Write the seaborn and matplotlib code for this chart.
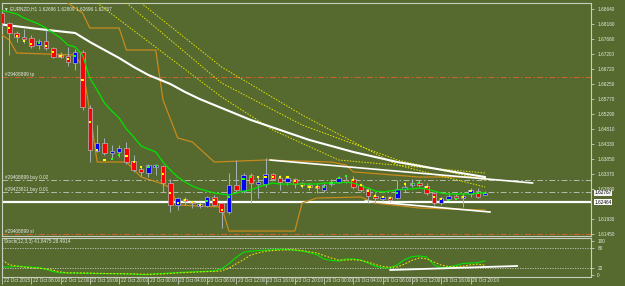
import matplotlib
matplotlib.use("Agg")
import matplotlib.pyplot as plt
import matplotlib.transforms as mtransforms
import numpy as np
import seaborn as sns

# ---------------- data (EURNZD H1) ----------------
bar_open = [1.68513, 1.68193, 1.67873, 1.67746, 1.67714, 1.67490, 1.67618, 1.67394, 1.67170, 1.67138,
            1.66915, 1.67266, 1.65476, 1.64102, 1.64358, 1.64038, 1.64070, 1.64198, 1.63782, 1.63527,
            1.63399, 1.63591, 1.63623, 1.63079, 1.62376, 1.62568, 1.62472, 1.62344, 1.62344, 1.62632,
            1.62440, 1.62152, 1.63015, 1.62824, 1.63335, 1.63047, 1.63047, 1.63367, 1.63239, 1.63111,
            1.63207, 1.63079, 1.63015, 1.62983, 1.62856, 1.63047, 1.63111, 1.63175, 1.63207, 1.63015,
            1.62888, 1.62664, 1.62568, 1.62632, 1.62600, 1.62888, 1.63015, 1.63079, 1.62983, 1.62760,
            1.62440, 1.62568, 1.62664, 1.62600, 1.62728, 1.62824, 1.62696]
bar_high = [1.68608, 1.68225, 1.67937, 1.68001, 1.67809, 1.67682, 1.67969, 1.67426, 1.67266, 1.67426,
            1.67362, 1.67330, 1.65572, 1.64933, 1.64518, 1.64294, 1.64294, 1.64390, 1.63974, 1.63591,
            1.63687, 1.63687, 1.63655, 1.63207, 1.62632, 1.62632, 1.62504, 1.62472, 1.62664, 1.62696,
            1.62472, 1.63399, 1.63814, 1.63399, 1.63399, 1.63271, 1.63878, 1.63399, 1.63335, 1.63271,
            1.63239, 1.63111, 1.63079, 1.63079, 1.63079, 1.63207, 1.63303, 1.63335, 1.63303, 1.63079,
            1.62952, 1.62760, 1.62664, 1.62664, 1.63175, 1.63111, 1.63207, 1.63175, 1.63079, 1.62792,
            1.62632, 1.62760, 1.62728, 1.62760, 1.62920, 1.62920, 1.62809]
bar_low = [1.68097, 1.67170, 1.67586, 1.67554, 1.67394, 1.67362, 1.67330, 1.67074, 1.67074, 1.66819,
           1.66691, 1.65412, 1.63750, 1.64070, 1.63974, 1.63878, 1.63910, 1.63687, 1.63431, 1.63303,
           1.63271, 1.63335, 1.62792, 1.62152, 1.62216, 1.62376, 1.62280, 1.62280, 1.62312, 1.62344,
           1.61641, 1.62089, 1.62760, 1.62760, 1.62440, 1.62600, 1.62952, 1.63175, 1.62856, 1.63015,
           1.62920, 1.62920, 1.62856, 1.62760, 1.62792, 1.62983, 1.63079, 1.63079, 1.62888, 1.62792,
           1.62440, 1.62440, 1.62504, 1.62472, 1.62568, 1.62792, 1.62952, 1.62952, 1.62696, 1.62376,
           1.62376, 1.62536, 1.62568, 1.62312, 1.62632, 1.62600, 1.62696]
bar_close = [1.68193, 1.67873, 1.67746, 1.67682, 1.67458, 1.67618, 1.67394, 1.67106, 1.67106, 1.66947,
             1.67266, 1.65508, 1.64134, 1.64358, 1.64038, 1.64102, 1.64198, 1.63750, 1.63495, 1.63431,
             1.63655, 1.63655, 1.63079, 1.62376, 1.62600, 1.62504, 1.62440, 1.62408, 1.62632, 1.62376,
             1.62152, 1.63015, 1.62856, 1.63335, 1.63079, 1.63111, 1.63367, 1.63207, 1.63111, 1.63239,
             1.63047, 1.63015, 1.62952, 1.62920, 1.63015, 1.63111, 1.63239, 1.63111, 1.62952, 1.62856,
             1.62664, 1.62600, 1.62632, 1.62536, 1.62888, 1.62952, 1.63079, 1.63015, 1.62760, 1.62440,
             1.62600, 1.62664, 1.62600, 1.62664, 1.62856, 1.62632, 1.62767]

fast_ma = [1.68592, 1.68544, 1.68481, 1.68353, 1.68257, 1.68161, 1.68033, 1.67873, 1.67714, 1.67490,
           1.67426, 1.67170, 1.66435, 1.66052, 1.65636, 1.65380, 1.65157, 1.64805, 1.64550, 1.64262,
           1.64166, 1.64070, 1.63750, 1.63495, 1.63271, 1.63111, 1.62983, 1.62888, 1.62824, 1.62760,
           1.62728, 1.62696, 1.62760, 1.62824, 1.62856, 1.62952, 1.63015, 1.63079, 1.63047, 1.63047,
           1.63047, 1.63047, 1.63047, 1.63047, 1.63079, 1.63079, 1.63079, 1.63111, 1.63079, 1.62983,
           1.62920, 1.62824, 1.62792, 1.62824, 1.62856, 1.62888, 1.62888, 1.62920, 1.62888, 1.62824,
           1.62760, 1.62728, 1.62728, 1.62728, 1.62728, 1.62760, 1.62760]

slow_ma_bars = [0, 5, 10, 12, 13, 16, 18, 20, 23, 25, 27, 34, 42, 48, 54, 61, 66]
slow_ma_vals = [1.68145, 1.68001, 1.67873, 1.67586, 1.67458, 1.67074, 1.66787, 1.66531, 1.66243,
                1.65988, 1.65764, 1.65093, 1.64454, 1.64070, 1.63750, 1.63463, 1.63271]

dot1_bars = [13, 30, 37, 46, 66]
dot1_vals = [1.68832, 1.65828, 1.64773, 1.63814, 1.63399]
dot2_bars = [17, 30, 41, 54, 66]
dot2_vals = [1.68832, 1.66275, 1.64933, 1.63814, 1.63175]
dot3_bars = [19, 30, 41, 54, 66]
dot3_vals = [1.68832, 1.66787, 1.65253, 1.63655, 1.62952]

chan_up_bars = [8, 9, 11, 12, 16, 17, 21, 22, 24, 26, 29, 36, 45, 47, 48, 50, 57, 66]
chan_up_vals = [1.69088, 1.68832, 1.68513, 1.68033, 1.68033, 1.67330, 1.67330, 1.65732, 1.64518,
                1.64390, 1.63750, 1.63814, 1.63750, 1.63655, 1.63431, 1.63399, 1.63271, 1.63271]
chan_lo_bars = [0, 1, 2, 10, 11, 12, 13, 17, 19, 22, 23, 24, 30, 31, 40, 41, 43, 49, 51, 57, 66]
chan_lo_vals = [1.67809, 1.67650, 1.67234, 1.67170, 1.66787, 1.65348, 1.63750, 1.63750, 1.63271,
                1.63047, 1.62920, 1.62376, 1.62312, 1.61545, 1.61545, 1.62440, 1.62600, 1.62632,
                1.62440, 1.62280, 1.62216]

ydot_bars = [1, 2, 3, 4, 6, 7, 8, 9, 11, 12, 13, 14, 17, 18, 19, 22, 23, 24, 25, 26, 27, 29, 30,
             35, 36, 37, 38, 39, 40, 41, 42, 43, 48, 49, 50, 51, 52, 53, 55, 58, 59, 60, 63, 64]
ydot_vals = [1.68033, 1.67777, 1.67618, 1.67522, 1.67458, 1.67266, 1.67138, 1.67042, 1.66371, 1.65029,
             1.64134, 1.63814, 1.63942, 1.63750, 1.63591, 1.63367, 1.62760, 1.62440, 1.62536, 1.62472,
             1.62376, 1.62536, 1.62216, 1.63271, 1.63271, 1.63271, 1.63271, 1.63271, 1.63143, 1.62983,
             1.62952, 1.62952, 1.63175, 1.63015, 1.62824, 1.62664, 1.62632, 1.62600, 1.63047, 1.62952,
             1.62632, 1.62568, 1.62632, 1.62824]
gdot_bars = [5, 10, 15, 16, 20, 21, 28, 31, 33, 34, 44, 45, 46, 47, 54, 56, 57, 61, 62, 65, 66]
gdot_vals = [1.67554, 1.67138, 1.63846, 1.63974, 1.63591, 1.63623, 1.62504, 1.62632, 1.63207, 1.63271,
             1.62952, 1.63079, 1.63239, 1.63303, 1.62760, 1.63047, 1.63079, 1.62536, 1.62568, 1.62760,
             1.62760]

trend_up_bars = [36.6, 72.5]
trend_up_vals = [1.63814, 1.63079]
trend_lo_bars = [49.6, 66.7]
trend_lo_vals = [1.62504, 1.62152]

order_levels = [1.66467, 1.63175, 1.62808, 1.61460]
order_labels = ['#29408899 tp', '#29408899 buy 0.02', '#29423811 buy 0.01', '#29408899 sl']
order_kinds = ['stop', 'entry', 'entry', 'stop']
hline_level = 1.62464

price_ticks = [1.68640, 1.68160, 1.67680, 1.67200, 1.66720, 1.66250, 1.65770, 1.65290, 1.64810,
               1.64330, 1.63850, 1.63370, 1.62890, 1.61930, 1.61450]
last_price = 1.62767

stoch_main = [23.5, 23.5, 26, 25, 23, 22, 17, 10, 6, 6, 6, 5, 5, 4, 4, 4, 3.5, 3, 3, 1,
              1.5, 3.5, 4.5, 6, 7, 8.5, 9, 10, 11, 12, 18, 33, 52, 67, 70, 72, 73, 74, 76, 75,
              73, 70, 66, 60, 47, 43, 41, 47, 47, 44, 35, 26, 21, 20.6, 30, 45, 54, 56, 53, 30,
              21, 24, 28, 34, 35, 36, 41.85]
stoch_signal = [44, 30, 26, 23, 21, 20, 18, 14, 9, 6, 6, 6, 5.5, 5, 4.5, 4, 4, 3.5, 3, 2.5,
                2, 2.5, 3, 4.5, 6, 7, 8, 9, 10, 10.5, 12, 20, 33, 45, 59, 65, 70, 72, 73, 74,
                74, 72, 68, 65, 57, 50, 44, 44, 45, 43, 38, 31, 25, 23, 24, 32, 43, 50, 48, 38,
                29, 25, 24, 26, 30, 32, 28.49]
stoch_trend_bars = [53, 70.4]
stoch_trend_vals = [14.7, 26.5]
stoch_ticks = [100, 80, 20, 0]

time_tick_bars = [0, 4, 8, 12, 16, 20, 24, 28, 32, 36, 40, 44, 48, 52, 56, 60, 64]
time_tick_labels = ['22 Oct 2015', '22 Oct 08:00', '22 Oct 12:00', '22 Oct 16:00', '22 Oct 20:00',
                    '23 Oct 00:00', '23 Oct 04:00', '23 Oct 08:00', '23 Oct 12:00', '23 Oct 16:00',
                    '23 Oct 20:00', '26 Oct 00:00', '26 Oct 04:00', '26 Oct 08:00', '26 Oct 12:00',
                    '26 Oct 16:00', '26 Oct 20:00']

# ---------------- style ----------------
BG = '#566a2f'
FG = '#e6e8e0'
FRAME = '#c8cec0'
ORANGE = '#c88a1c'
YELLOW = '#e4e400'
GREEN = '#00e400'
sns.set_theme(style='dark', rc={'axes.facecolor': BG, 'figure.facecolor': BG})
plt.rcParams['font.family'] = ['Liberation Sans', 'DejaVu Sans']
FS = 3.4

W, H = 625, 286
def rect(l, t, r, b):
    return [l / W, 1 - b / H, (r - l) / W, (b - t) / H]

fig = plt.figure(figsize=(W / 100, H / 100), dpi=100)
ax = fig.add_axes(rect(2, 3, 591, 236))
ax2 = fig.add_axes(rect(2, 238, 591, 277), sharex=ax)
for a in (ax, ax2):
    a.set_facecolor(BG)
    a.grid(False)
    for sp in a.spines.values():
        sp.set_color(FRAME)
        sp.set_linewidth(0.8)

# ---------------- main window ----------------
o = np.array(bar_open); c = np.array(bar_close)
hi = np.array(bar_high); lo = np.array(bar_low)
idx = np.arange(len(o))
bull = c >= o

# order lines
for lev, lab, kind in zip(order_levels, order_labels, order_kinds):
    col = '#d8602c' if kind == 'stop' else '#b4bcae'
    ax.axhline(lev, color=col, lw=0.7, ls=(0, (6, 2.5, 1.5, 2.5)), zorder=1)
    ax.text(0.005, lev, lab, transform=mtransforms.blended_transform_factory(ax.transAxes, ax.transData),
            fontsize=FS, color=FG, va='bottom', ha='left', zorder=2)
ax.axhline(hline_level, color='white', lw=1.6, zorder=2)

# channel (orange) and averages
sns.lineplot(x=chan_up_bars, y=chan_up_vals, ax=ax, color=ORANGE, lw=0.9, sort=False, estimator=None, zorder=3)
sns.lineplot(x=chan_lo_bars, y=chan_lo_vals, ax=ax, color=ORANGE, lw=0.9, sort=False, estimator=None, zorder=3)
for bx, by in ((dot1_bars, dot1_vals), (dot2_bars, dot2_vals), (dot3_bars, dot3_vals)):
    sns.lineplot(x=bx, y=by, ax=ax, color=YELLOW, lw=0.7, sort=False, estimator=None,
                 linestyle=(0, (1.5, 1.5)), zorder=3)
sns.lineplot(x=slow_ma_bars, y=slow_ma_vals, ax=ax, color='white', lw=1.5, sort=False, estimator=None, zorder=3)
sns.lineplot(x=trend_up_bars, y=trend_up_vals, ax=ax, color='white', lw=1.2, sort=False, estimator=None, zorder=3)
sns.lineplot(x=trend_lo_bars, y=trend_lo_vals, ax=ax, color='white', lw=1.2, sort=False, estimator=None, zorder=3)

# candles
ax.vlines(idx, lo, hi, color='#a4b4b8', lw=0.7, zorder=4)
body_h = np.maximum(np.abs(c - o), 0.00012)
ax.bar(idx, body_h, bottom=np.minimum(o, c), width=0.62,
       color=np.where(bull, '#0000ff', '#ff0000'), edgecolor='#b8b8b8', linewidth=0.5, zorder=5)
sns.lineplot(x=idx, y=fast_ma, ax=ax, color=GREEN, lw=0.9, sort=False, estimator=None, zorder=6)
sns.scatterplot(x=ydot_bars, y=ydot_vals, ax=ax, marker='s', s=2.5, color='#ffff00', edgecolor='none', zorder=7)
sns.scatterplot(x=gdot_bars, y=gdot_vals, ax=ax, marker='s', s=2.5, color='#20ff20', edgecolor='none', zorder=7)

ax.set_xlim(0, 80.46)
ax.set_ylim(1.61386, 1.68832)
ax.set_xlabel(''); ax.set_ylabel('')
ax.yaxis.tick_right()
ax.set_yticks(price_ticks)
ax.set_yticklabels([f'{v:.5f}' for v in price_ticks])
ax.tick_params(axis='y', direction='out', length=2.5, width=0.6, color=FRAME, labelcolor=FG,
               labelsize=FS, pad=2, left=False, right=True)
ax.tick_params(axis='x', bottom=False, labelbottom=False)

tb = mtransforms.blended_transform_factory(ax.transAxes, ax.transData)
ax.text(1.006, last_price, f'{last_price:.5f}', transform=tb, fontsize=FS, color='black', va='center',
        ha='left', clip_on=False, zorder=10,
        bbox=dict(boxstyle='square,pad=0.08', fc='#f2f2f2', ec='none'))
ax.text(1.006, hline_level, f'{hline_level:.5f}', transform=tb, fontsize=FS, color='black', va='center',
        ha='left', clip_on=False, zorder=10,
        bbox=dict(boxstyle='square,pad=0.08', fc='white', ec='none'))

ax.text(0.004, 0.985, '\u25BC EURNZD,H1 1.62696 1.62809 1.62696 1.62767', transform=ax.transAxes,
        fontsize=FS, color=FG, va='top', ha='left', zorder=10)

# ---------------- stochastic window ----------------
ax2.axhline(80, color='#c8c8c0', lw=0.6, ls=(0, (1.5, 1.5)))
ax2.axhline(20, color='#c8c8c0', lw=0.6, ls=(0, (1.5, 1.5)))
sns.lineplot(x=idx, y=stoch_main, ax=ax2, color=GREEN, lw=0.8, sort=False, estimator=None)
sns.lineplot(x=idx, y=stoch_signal, ax=ax2, color=YELLOW, lw=0.8, sort=False, estimator=None,
             linestyle=(0, (1.5, 1.5)))
sns.lineplot(x=stoch_trend_bars, y=stoch_trend_vals, ax=ax2, color='white', lw=1.3, sort=False, estimator=None)
ax2.set_ylim(-5.9, 108.8)
ax2.set_xlabel(''); ax2.set_ylabel('')
ax2.yaxis.tick_right()
ax2.set_yticks(stoch_ticks)
ax2.set_yticklabels([str(v) for v in stoch_ticks])
ax2.tick_params(axis='y', direction='out', length=2.5, width=0.6, color=FRAME, labelcolor=FG,
                labelsize=FS, pad=2, left=False, right=True)
ax2.set_xticks(time_tick_bars)
ax2.set_xticklabels(time_tick_labels)
ax2.tick_params(axis='x', direction='out', length=5, width=0.6, color=FRAME, labelcolor=FG,
                labelsize=FS, pad=-4.2, bottom=True)
offset = mtransforms.ScaledTranslation(1.5 / 100, 0, fig.dpi_scale_trans)
for lab in ax2.get_xticklabels():
    lab.set_horizontalalignment('left')
    lab.set_transform(lab.get_transform() + offset)
ax2.text(0.004, 0.97, 'Stoch(12,3,3) 41.8475 28.4914', transform=ax2.transAxes, fontsize=FS,
         color=FG, va='top', ha='left')
ax2.set_xlim(0, 80.46)

fig.savefig('out.png', dpi=100, facecolor=BG)
